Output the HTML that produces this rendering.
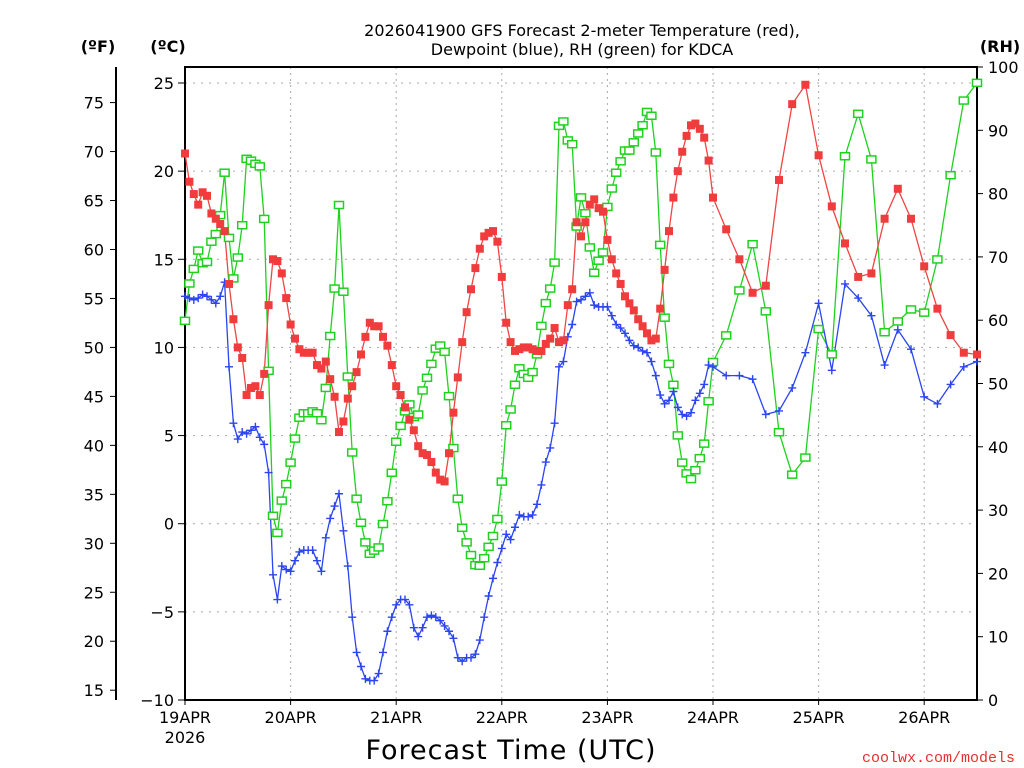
<!DOCTYPE html>
<html><head><meta charset="utf-8"><style>
html,body{margin:0;padding:0;background:#fff;}
svg{display:block;font-family:"DejaVu Sans","Liberation Sans",sans-serif;}
</style></head><body>
<svg id="chart" width="1024" height="768" xmlns="http://www.w3.org/2000/svg">
<rect width="1024" height="768" fill="#fff"/>
<text x="582" y="36" text-anchor="middle" font-size="16">2026041900 GFS Forecast 2-meter Temperature (red),</text>
<text x="582" y="55" text-anchor="middle" font-size="16">Dewpoint (blue), RH (green) for KDCA</text>
<text x="98" y="52" text-anchor="middle" font-size="16" font-weight="bold">(ºF)</text>
<text x="168" y="52" text-anchor="middle" font-size="16" font-weight="bold">(ºC)</text>
<text x="1000" y="52" text-anchor="middle" font-size="16" font-weight="bold">(RH)</text>
<text x="511" y="759" text-anchor="middle" font-size="27" letter-spacing="1">Forecast Time (UTC)</text>
<text x="1015" y="762" text-anchor="end" font-size="15" fill="#e83030" font-family="Liberation Mono, monospace">coolwx.com/models</text>
<g id="grid"></g><g id="axes"></g><g id="series"></g>
</svg>
<script>
const hours = [];
for (let h = 0; h <= 120; h++) hours.push(h);
for (let h = 123; h <= 180; h += 3) hours.push(h);
const tempC = [21.0,19.4,18.7,18.1,18.8,18.6,17.6,17.3,17.0,16.6,13.6,11.6,10.0,9.4,7.3,7.7,7.8,7.3,8.5,12.4,15.0,14.9,14.2,12.8,11.3,10.5,9.9,9.7,9.7,9.7,9.0,8.8,9.2,8.2,7.2,5.2,5.8,7.1,7.8,8.6,9.6,10.6,11.4,11.2,11.2,10.6,10.1,9.0,7.8,7.3,6.6,5.9,5.3,4.4,4.0,3.9,3.5,2.9,2.5,2.4,4.0,6.3,8.3,10.3,12.0,13.3,14.5,15.6,16.3,16.5,16.6,16.0,14.0,11.4,10.3,9.8,9.9,10.0,10.0,9.9,9.8,9.8,10.2,10.5,11.1,10.3,10.4,12.4,13.3,17.1,16.3,17.1,18.1,18.4,17.9,17.7,16.1,15.0,14.2,13.6,12.9,12.5,12.1,11.6,11.2,10.8,10.4,10.5,12.2,14.4,16.6,18.5,20.0,21.1,22.0,22.6,22.7,22.4,21.9,20.6,18.5,16.7,15.0,13.1,13.5,19.5,23.8,24.9,20.9,18.0,15.9,14.0,14.2,17.3,19.0,17.3,14.6,12.2,10.7,9.7,9.6];
const dewC = [12.9,12.8,12.7,12.8,13.0,12.9,12.7,12.5,12.9,13.7,8.9,5.7,4.8,5.2,5.1,5.3,5.5,4.9,4.5,2.9,-2.9,-4.3,-2.4,-2.6,-2.7,-2.1,-1.6,-1.5,-1.5,-1.5,-2.1,-2.7,-0.8,0.3,1.0,1.7,-0.4,-2.4,-5.3,-7.3,-8.1,-8.8,-8.9,-8.9,-8.5,-7.3,-6.1,-5.3,-4.6,-4.3,-4.3,-4.6,-5.9,-6.4,-5.9,-5.3,-5.2,-5.3,-5.5,-5.8,-6.1,-6.5,-7.6,-7.8,-7.6,-7.6,-7.4,-6.6,-5.3,-4.1,-3.1,-2.2,-1.4,-0.6,-0.9,-0.2,0.5,0.4,0.4,0.5,1.1,2.2,3.5,4.3,5.7,8.9,9.2,10.6,11.3,12.6,12.7,12.9,13.1,12.4,12.3,12.3,12.3,11.8,11.3,11.1,10.8,10.4,10.1,10.0,9.8,9.7,9.2,8.4,7.3,6.8,7.0,7.5,6.6,6.2,6.1,6.3,7.0,7.4,7.9,9.0,8.9,8.4,8.4,8.2,6.2,6.4,7.7,9.7,12.5,8.7,13.6,12.8,11.8,9.0,11.0,9.9,7.2,6.8,7.9,8.9,9.2];
const rhPct = [59.9,65.8,68.1,71.0,69.0,69.2,72.4,73.6,76.6,83.3,73.0,66.6,69.9,75.0,85.5,85.2,84.7,84.3,76.0,52.0,29.1,26.4,31.5,34.1,37.5,41.3,44.6,45.3,45.3,45.6,45.3,44.2,49.3,57.5,65.0,78.2,64.5,51.1,39.1,31.8,28.0,24.9,23.1,23.6,24.1,27.8,31.4,35.9,40.8,43.3,45.6,46.7,44.7,45.1,48.9,50.9,53.1,55.5,56.0,55.0,48.0,39.8,31.8,27.2,24.9,22.9,21.3,21.2,22.4,24.2,25.9,28.6,34.5,43.4,45.9,49.8,52.4,51.5,50.9,51.8,54.6,59.1,62.7,65.0,69.1,90.7,91.4,88.4,87.8,74.8,79.4,76.9,71.5,67.5,69.4,70.7,77.9,80.8,83.3,85.1,86.8,86.8,88.1,89.5,90.8,92.9,92.3,86.5,71.9,60.4,53.1,49.8,41.8,37.5,35.8,34.9,36.3,38.2,40.5,47.2,53.4,57.6,64.7,72.0,61.4,42.3,35.6,38.3,58.6,54.6,85.9,92.6,85.4,58.1,59.8,61.7,61.2,69.6,82.9,94.7,97.5];
const dayLabels = ["19APR","20APR","21APR","22APR","23APR","24APR","25APR","26APR"];
const cTicks = [-10,-5,0,5,10,15,20,25];
const fTicks = [15,20,25,30,35,40,45,50,55,60,65,70,75];
const rhTicks = [0,10,20,30,40,50,60,70,80,90,100];

const NS = "http://www.w3.org/2000/svg";
const X0 = 185, X1 = 977, YB = 700, YT = 67;
const xOf = h => X0 + h * (X1 - X0) / 180;
const yC = c => YB - (c + 10) * (617 / 35);
const yF = f => yC((f - 32) * 5 / 9);
const yRH = r => YB - r * (YB - YT) / 100;
function mk(tag, attrs, parent) {
  const e = document.createElementNS(NS, tag);
  for (const k in attrs) e.setAttribute(k, attrs[k]);
  parent.appendChild(e);
  return e;
}
const grid = document.getElementById('grid');
const axes = document.getElementById('axes');
const series = document.getElementById('series');

cTicks.forEach(c => {
  if (c === -10) return;
  const g = mk('line', {x1: X0, x2: X1, y1: yC(c), y2: yC(c), stroke: '#aaa', 'stroke-width': 1, 'stroke-dasharray': '2,6'}, grid);
  
  
});
dayLabels.forEach((d, i) => {
  const x = xOf(i * 24);
  if (i > 0) {
    const g = mk('line', {x1: x, x2: x, y1: YT, y2: YB, stroke: '#aaa', 'stroke-width': 1, 'stroke-dasharray': '2,4'}, grid);
    
    
  }
  const t = mk('text', {x: x, y: 723, 'text-anchor': 'middle', 'font-size': 16}, axes);
  t.textContent = d;
  
  
  mk('line', {x1: x, x2: x, y1: YB, y2: YB + 5, stroke: '#000', 'stroke-width': 1}, axes);
});
const yr = mk('text', {x: xOf(0), y: 743, 'text-anchor': 'middle', 'font-size': 16}, axes);
yr.textContent = '2026';



const fr = mk('rect', {x: X0, y: YT, width: X1 - X0, height: YB - YT, fill: 'none', stroke: '#000', 'stroke-width': 2}, axes);


const fa = mk('line', {x1: 116, x2: 116, y1: YT, y2: YB, stroke: '#000', 'stroke-width': 2}, axes);


fTicks.forEach(f => {
  const y = yF(f);
  mk('line', {x1: 110, x2: 116, y1: y, y2: y, stroke: '#000'}, axes);
  const t = mk('text', {x: 104, y: y + 6, 'text-anchor': 'end', 'font-size': 16}, axes);
  t.textContent = f;
  
  
});
cTicks.forEach(c => {
  const y = yC(c);
  mk('line', {x1: 178, x2: 185, y1: y, y2: y, stroke: '#000'}, axes);
  const t = mk('text', {x: 174, y: y + 6, 'text-anchor': 'end', 'font-size': 16}, axes);
  t.textContent = c < 0 ? '\u2212' + Math.abs(c) : c;
  
  
});
rhTicks.forEach(r => {
  const y = yRH(r);
  mk('line', {x1: X1, x2: X1 + 6, y1: y, y2: y, stroke: '#000'}, axes);
  const t = mk('text', {x: 988, y: y + 6, 'text-anchor': 'start', 'font-size': 16}, axes);
  t.textContent = r;
  
  
});

function drawLine(vals, yfn, color, name) {
  const pts = vals.map((v, i) => xOf(hours[i]).toFixed(1) + ',' + yfn(v).toFixed(1)).join(' ');
  const p = mk('polyline', {points: pts, fill: 'none', stroke: color, 'stroke-width': 1.3}, series);
  
  
}
drawLine(rhPct, yRH, '#1ed21e', 'rh-line');
drawLine(dewC, yC, '#2b45f0', 'dewpoint-line');
drawLine(tempC, yC, '#f04545', 'temperature-line');

rhPct.forEach((v, i) => {
  const m = mk('rect', {x: xOf(hours[i]) - 4.5, y: yRH(v) - 3.5, width: 9, height: 7, fill: '#fff', stroke: '#1ed21e', 'stroke-width': 1.5}, series);
  
  
});
dewC.forEach((v, i) => {
  const x = xOf(hours[i]), y = yC(v);
  const m = mk('path', {d: `M${x-4},${y}H${x+4}M${x},${y-4}V${y+4}`, stroke: '#2b45f0', 'stroke-width': 1.4, fill: 'none'}, series);
  
  
});
tempC.forEach((v, i) => {
  const m = mk('rect', {x: xOf(hours[i]) - 4, y: yC(v) - 4, width: 8, height: 8, fill: '#f03c3c'}, series);
  
  
});
</script>
</body></html>
